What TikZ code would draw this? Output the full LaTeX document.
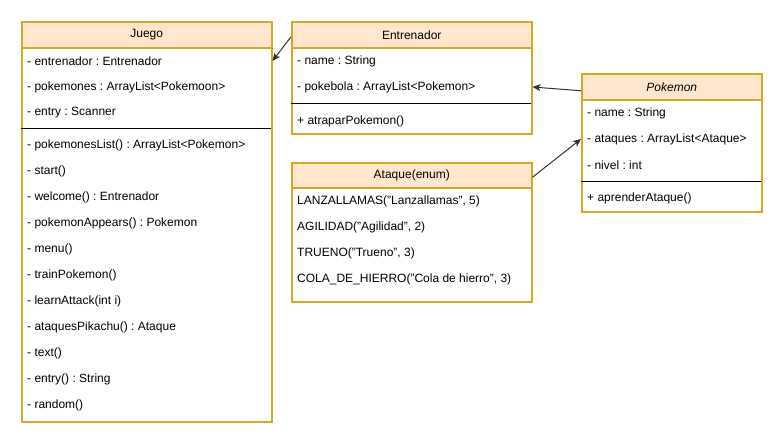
\documentclass[tikz,border=0pt]{standalone}
\usepackage{fontspec}
\setmainfont{Liberation Sans}
\usetikzlibrary{arrows.meta}
\frenchspacing
\definecolor{boxline}{RGB}{214,168,40}
\definecolor{headfill}{RGB}{255,230,204}
\definecolor{arrowgray}{RGB}{51,51,51}
\tikzset{
  classhead/.style={draw=boxline, fill=headfill, line width=1.5pt, anchor=north west, inner sep=0pt},
  classbody/.style={draw=boxline, fill=white, line width=1.5pt, anchor=north west, inner sep=0pt},
  member/.style={anchor=west, inner sep=0pt, font=\fontsize{12}{14}\selectfont},
  sep/.style={draw=black, line width=0.8pt},
  assoc/.style={->, draw=arrowgray, line width=1pt}
}
\begin{document}
\begin{tikzpicture}[>={Stealth[length=8pt,width=7pt,inset=2pt]},x=1pt,y=-1pt]
  \useasboundingbox (0,0) rectangle (782,442);
  % Juego
  \node[classbody, minimum width=250, minimum height=374] (jbody) at (21,47) {};
  \node[classhead, minimum width=250, minimum height=26, font=\fontsize{12}{14}\selectfont] (jhead) at (21,21) {Juego};
  \node[member] (j1) at (27,61) {- entrenador : Entrenador};
  \node[member] (j2) at (27,87) {- pokemones : ArrayList<Pokemoon>};
  \node[member] (j3) at (27,113) {- entry : Scanner};
  \draw[sep] (21,128) -- (271,128);
  \node[member] (j4) at (27,145) {- pokemonesList() : ArrayList<Pokemon>};
  \node[member] (j5) at (27,171) {- start()};
  \node[member] (j6) at (27,197) {- welcome() : Entrenador};
  \node[member] (j7) at (27,223) {- pokemonAppears() : Pokemon};
  \node[member] (j8) at (27,249) {- menu()};
  \node[member] (j9) at (27,275) {- trainPokemon()};
  \node[member] (j10) at (27,301) {- learnAttack(int i)};
  \node[member] (j11) at (27,327) {- ataquesPikachu() : Ataque};
  \node[member] (j12) at (27,353) {- text()};
  \node[member] (j13) at (27,379) {- entry() : String};
  \node[member] (j14) at (27,405) {- random()};
  % Entrenador
  \node[classbody, minimum width=240, minimum height=86] (ebody) at (291,47) {};
  \node[classhead, minimum width=240, minimum height=26, font=\fontsize{12}{14}\selectfont] (ehead) at (291,21) {Entrenador};
  \node[member] (e1) at (297,61) {- name : String};
  \node[member] (e2) at (297,87) {- pokebola : ArrayList<Pokemon>};
  \draw[sep] (291,103) -- (531,103);
  \node[member] (e3) at (297,121) {+ atraparPokemon()};
  % Ataque(enum)
  \node[classbody, minimum width=240, minimum height=114] (abody) at (291,187) {};
  \node[classhead, minimum width=240, minimum height=25, font=\fontsize{12}{14}\selectfont] (ahead) at (291,162) {Ataque(enum)};
  \node[member] (a1) at (297,201) {LANZALLAMAS("Lanzallamas", 5)};
  \node[member] (a2) at (297,227) {AGILIDAD("Agilidad", 2)};
  \node[member] (a3) at (297,253) {TRUENO("Trueno", 3)};
  \node[member] (a4) at (297,279) {COLA\_DE\_HIERRO("Cola de hierro", 3)};
  % Pokemon
  \node[classbody, minimum width=180, minimum height=112] (pbody) at (581,99) {};
  \node[classhead, minimum width=180, minimum height=26, font=\fontsize{12}{14}\selectfont\itshape] (phead) at (581,73) {Pokemon};
  \node[member] (p1) at (587,113) {- name : String};
  \node[member] (p2) at (587,139) {- ataques : ArrayList<Ataque>};
  \node[member] (p3) at (587,165) {- nivel : int};
  \draw[sep] (581,181) -- (761,181);
  \node[member] (p4) at (587,198) {+ aprenderAtaque()};
  % relaciones
  \draw[assoc] ([yshift=-2pt]ehead.west) -- (jbody.east |- j1);
  \draw[assoc] ([yshift=-4pt]phead.west) -- (ebody.east |- e2);
  \draw[assoc] ([yshift=-2pt]ahead.east) -- (pbody.west |- p2);
\end{tikzpicture}
\end{document}
